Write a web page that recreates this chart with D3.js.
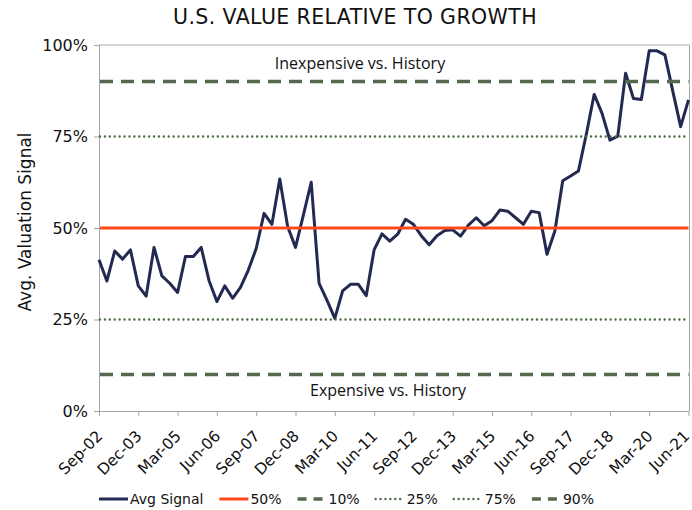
<!DOCTYPE html>
<html>
<head>
<meta charset="utf-8">
<script src="https://cdn.jsdelivr.net/npm/d3@7"></script>
<style>
  html, body { margin: 0; padding: 0; background: #fff; }
  svg { display: block; font-family: "DejaVu Sans", Verdana, sans-serif; }
</style>
</head>
<body>
<svg id="chart"></svg>
<script>
// quarterly observations, Sep-02 .. Jun-21
const quarters = d3.timeMonth.range(new Date(2002, 8, 1), new Date(2021, 6, 1), 3);
const categories = quarters.map(d3.timeFormat("%b-%y"));

const avgSignal = [
    41.3, 35.5, 43.7, 41.5, 44.0, 34.2, 31.4, 44.7, 36.9, 34.9,
    32.4, 42.2, 42.2, 44.7, 35.6, 29.9, 34.2, 30.8, 33.8, 38.5,
    44.4, 54.0, 51.0, 63.4, 50.4, 44.7, 53.5, 62.5, 34.9, 30.3,
    25.3, 32.8, 34.6, 34.6, 31.5, 44.0, 48.4, 46.4, 48.3, 52.4,
    51.0, 47.9, 45.4, 47.9, 49.3, 49.5, 47.8, 50.8, 52.8, 50.6,
    52.0, 54.9, 54.6, 52.8, 51.0, 54.6, 54.2, 42.8, 49.2, 62.9,
    64.2, 65.6, 75.6, 86.5, 81.3, 74.0, 75.1, 92.3, 85.4, 85.1,
    98.4, 98.4, 97.3, 87.4, 77.7, 85.0
];

const xTickLabels = ["Sep-02", "Dec-03", "Mar-05", "Jun-06", "Sep-07", "Dec-08", "Mar-10", "Jun-11",
    "Sep-12", "Dec-13", "Mar-15", "Jun-16", "Sep-17", "Dec-18", "Mar-20", "Jun-21"];
const yTicks = [0, 25, 50, 75, 100];

const refNames = ["50%", "10%", "25%", "75%", "90%"];
const refValues = [50, 10, 25, 75, 90];

const annotations = ["Inexpensive vs. History", "Expensive vs. History"];
const annotationValues = [95.1, 5.7];

const width = 692, height = 510;
const margin = { top: 45, right: 3, bottom: 99, left: 99 };

const navy = "#232a52";
const refStyle = {
    "50%": { stroke: "#ff4a1c", width: 3, dash: null, cap: "butt" },
    "10%": { stroke: "#56684e", width: 3.5, dash: "13,8", cap: "butt" },
    "90%": { stroke: "#56684e", width: 3.5, dash: "13,8", cap: "butt" },
    "25%": { stroke: "#4c6a44", width: 2.4, dash: "0.01,4.9", cap: "round" },
    "75%": { stroke: "#4c6a44", width: 2.4, dash: "0.01,4.9", cap: "round" }
};

const svg = d3.select("#chart")
    .attr("width", width)
    .attr("height", height);

const x = d3.scalePoint()
    .domain(categories)
    .range([margin.left, width - margin.right - 0.5]);

const y = d3.scaleLinear()
    .domain([0, 100])
    .range([height - margin.bottom, margin.top]);

// Title
svg.append("text")
    .attr("x", 355)
    .attr("y", 24)
    .attr("text-anchor", "middle")
    .attr("font-size", 20.5)
    .attr("letter-spacing", 0.4)
    .attr("fill", "#111")
    .text("U.S. VALUE RELATIVE TO GROWTH");

// plot frame (top / right)
svg.append("path")
    .attr("d", `M${margin.left},${y(100)}H${x.range()[1] + 1}V${y(0)}`)
    .attr("fill", "none")
    .attr("stroke", "#a6a6a6")
    .attr("stroke-width", 1);

// Y axis
const yAxis = svg.append("g")
    .attr("transform", `translate(${margin.left},0)`)
    .call(d3.axisLeft(y).tickValues(yTicks).tickSize(5).tickPadding(6).tickFormat(d => d + "%"));
yAxis.select(".domain").attr("stroke", "#a6a6a6");
yAxis.selectAll(".tick line").attr("stroke", "#a6a6a6");
yAxis.selectAll("text").attr("font-size", 16).attr("fill", "#111")
    .attr("font-family", "DejaVu Sans");

// X axis, labels turned 45 degrees
const xAxis = svg.append("g")
    .attr("transform", `translate(0,${y(0)})`)
    .call(d3.axisBottom(x).tickValues(xTickLabels).tickSize(5).tickSizeOuter(0));
xAxis.select(".domain").attr("stroke", "#a6a6a6");
xAxis.selectAll(".tick line").attr("stroke", "#a6a6a6");
xAxis.selectAll("text")
    .attr("font-size", 15.5)
    .attr("font-family", "DejaVu Sans")
    .attr("fill", "#111")
    .attr("text-anchor", "end")
    .attr("dy", null)
    .attr("x", (d, i) => i === xTickLabels.length - 1 ? 1.5 : 4)
    .attr("y", 26)
    .attr("transform", (d, i) => i === xTickLabels.length - 1 ? "rotate(-45, 1.5, 26)" : "rotate(-45, 4, 26)");

// Y axis title
svg.append("text")
    .attr("transform", "translate(31,222) rotate(-90)")
    .attr("text-anchor", "middle")
    .attr("font-size", 17)
    .attr("fill", "#111")
    .text("Avg. Valuation Signal");

// Avg Signal line
const line = d3.line()
    .x((d, i) => x(categories[i]))
    .y(d => y(d));

svg.append("path")
    .datum(avgSignal)
    .attr("d", line)
    .attr("fill", "none")
    .attr("stroke", navy)
    .attr("stroke-width", 3)
    .attr("stroke-linejoin", "round");

// reference lines
svg.append("g")
    .selectAll("line")
    .data(refNames)
    .join("line")
    .attr("x1", x.range()[0] + 1)
    .attr("x2", x.range()[1])
    .attr("y1", (d, i) => y(refValues[i]))
    .attr("y2", (d, i) => y(refValues[i]))
    .attr("stroke", d => refStyle[d].stroke)
    .attr("stroke-width", d => refStyle[d].width)
    .attr("stroke-dasharray", d => refStyle[d].dash)
    .attr("stroke-linecap", d => refStyle[d].cap);

// annotations
svg.append("g")
    .selectAll("text")
    .data(annotations)
    .join("text")
    .attr("x", (d, i) => i === 0 ? 360 : 388)
    .attr("y", (d, i) => y(annotationValues[i]))
    .attr("dy", "0.35em")
    .attr("text-anchor", "middle")
    .attr("font-family", "Open Sans")
    .attr("font-size", 16)
    .attr("fill", "#111")
    .text(d => d);

// Legend
const legendItems = ["Avg Signal"].concat(refNames);
const legend = svg.append("g").attr("transform", "translate(99,499)");
let lx = 0;
legendItems.forEach(name => {
    const st = name === "Avg Signal"
        ? { stroke: navy, width: 3, dash: null, cap: "butt" }
        : refStyle[name];
    legend.append("line")
        .attr("x1", lx).attr("x2", lx + 29)
        .attr("y1", 0).attr("y2", 0)
        .attr("stroke", st.stroke)
        .attr("stroke-width", st.width)
        .attr("stroke-dasharray", st.dash ? (st.cap === "round" ? "0.01,4.9" : "9,7") : null)
        .attr("stroke-linecap", st.cap);
    const t = legend.append("text")
        .attr("x", lx + 31)
        .attr("y", 0)
        .attr("dy", "0.36em")
        .attr("font-size", 14)
        .attr("fill", "#111")
        .text(name);
    lx += 31 + t.node().getComputedTextLength() + 16;
});
</script>
</body>
</html>
